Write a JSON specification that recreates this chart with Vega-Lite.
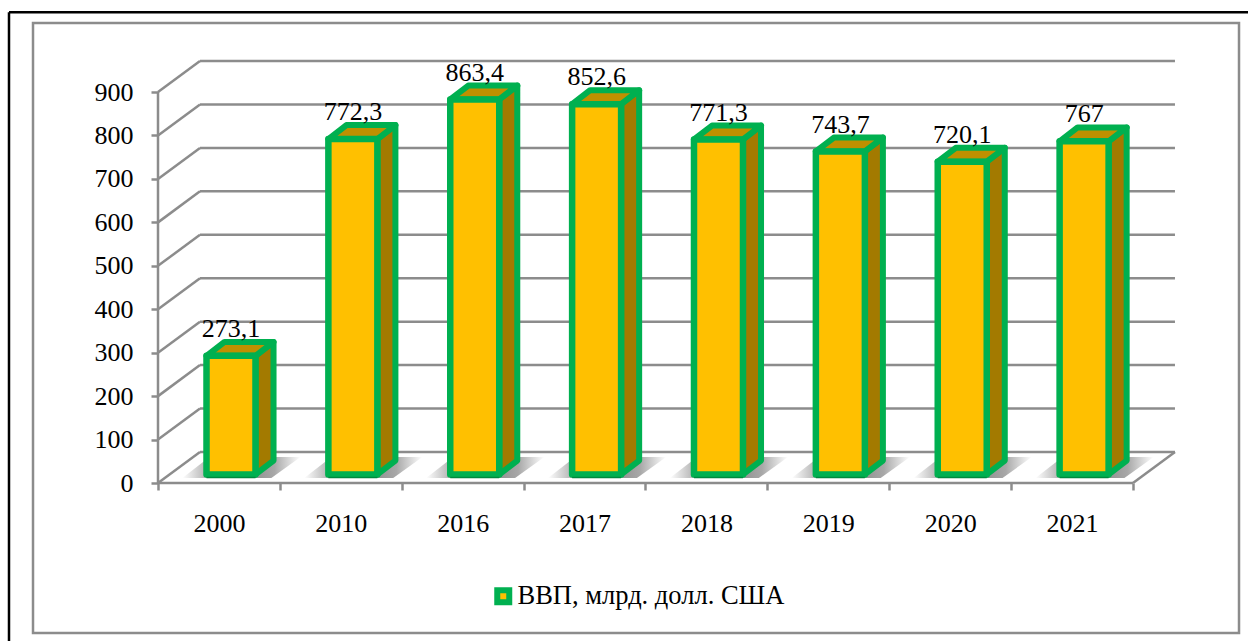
{"$schema":"https://vega.github.io/schema/vega-lite/v6.json","width":1018,"height":422,"autosize":{"type":"none"},"padding":{"left":158,"top":61,"right":72,"bottom":158},"background":"white","config":{"view":{"stroke":null},"font":"Liberation Serif"},"data":{"values":[{"year":"2000","value":273.1,"series":"ВВП, млрд. долл. США"},{"year":"2010","value":772.3,"series":"ВВП, млрд. долл. США"},{"year":"2016","value":863.4,"series":"ВВП, млрд. долл. США"},{"year":"2017","value":852.6,"series":"ВВП, млрд. долл. США"},{"year":"2018","value":771.3,"series":"ВВП, млрд. долл. США"},{"year":"2019","value":743.7,"series":"ВВП, млрд. долл. США"},{"year":"2020","value":720.1,"series":"ВВП, млрд. долл. США"},{"year":"2021","value":767,"series":"ВВП, млрд. долл. США"}]},"transform":[{"window":[{"op":"row_number","as":"n"}]},{"calculate":"datum.n-1","as":"idx"},{"calculate":"datum.idx+0.398","as":"xl"},{"calculate":"datum.idx+0.8","as":"xr"},{"calculate":"19.6","as":"base"},{"calculate":"datum.value+19.6","as":"top"},{"calculate":"replace(toString(datum.value),'.',',')","as":"label"}],"layer":[{"data":{"values":[{"frame":"panel"}]},"mark":{"type":"rect","fill":null,"stroke":"#8c8c8c","strokeWidth":2.5},"encoding":{"x":{"datum":-1.0256,"type":"quantitative","scale":{"domain":[0,8.353],"nice":false,"zero":false},"axis":{"title":null,"values":[0,1,2,3,4,5,6,7,8],"domain":false,"tickColor":"#8c8c8c","tickWidth":2.5,"tickSize":7,"labelFont":"Liberation Serif","labelFontSize":26,"labelColor":"#000000","labelOffset":61,"labelBound":false,"labelFlush":false,"labelOverlap":false,"labelPadding":20,"grid":false,"labelExpr":"['2000','2010','2016','2017','2018','2019','2020','2021',''][datum.value]"}},"x2":{"datum":8.87},"y":{"datum":-345.3,"type":"quantitative","scale":{"domain":[0,971.5],"nice":false,"zero":false},"axis":{"title":null,"values":[0,100,200,300,400,500,600,700,800,900],"domain":false,"tickColor":"#8c8c8c","tickWidth":2.5,"tickSize":7,"labelFont":"Liberation Serif","labelFontSize":26,"labelColor":"#000000","labelPadding":18,"grid":false,"labelOverlap":false,"labelBound":false}},"y2":{"datum":1059}}},{"data":{"values":[{"frame":"outer"}]},"mark":{"type":"rule","stroke":"#000000","strokeWidth":2.5},"encoding":{"x":{"datum":-1.2226,"type":"quantitative","scale":{"domain":[0,8.353],"nice":false,"zero":false}},"x2":{"datum":9.5},"y":{"datum":1084,"type":"quantitative","scale":{"domain":[0,971.5],"nice":false,"zero":false}}}},{"data":{"values":[{"frame":"outer"}]},"mark":{"type":"rule","stroke":"#000000","strokeWidth":2.5},"encoding":{"x":{"datum":-1.2226,"type":"quantitative","scale":{"domain":[0,8.353],"nice":false,"zero":false}},"y":{"datum":-400,"type":"quantitative","scale":{"domain":[0,971.5],"nice":false,"zero":false}},"y2":{"datum":1084}}},{"data":{"values":[{"axis":"value"}]},"mark":{"type":"rule","stroke":"#8c8c8c","strokeWidth":2.5},"encoding":{"x":{"datum":0,"type":"quantitative","scale":{"domain":[0,8.353],"nice":false,"zero":false}},"y":{"datum":0,"type":"quantitative","scale":{"domain":[0,971.5],"nice":false,"zero":false}},"y2":{"datum":900}}},{"data":{"values":[{"axis":"category"}]},"mark":{"type":"rule","stroke":"#8c8c8c","strokeWidth":2.5},"encoding":{"x":{"datum":0,"type":"quantitative","scale":{"domain":[0,8.353],"nice":false,"zero":false}},"x2":{"datum":8},"y":{"datum":0,"type":"quantitative","scale":{"domain":[0,971.5],"nice":false,"zero":false}}}},{"data":{"values":[{"tick":0},{"tick":100},{"tick":200},{"tick":300},{"tick":400},{"tick":500},{"tick":600},{"tick":700},{"tick":800},{"tick":900}]},"transform":[{"calculate":"0.3446","as":"x0"},{"calculate":"8.3446","as":"x1"},{"calculate":"datum.tick+71.4","as":"yb"}],"mark":{"type":"rule","stroke":"#8c8c8c","strokeWidth":2.5},"encoding":{"x":{"field":"x0","type":"quantitative","scale":{"domain":[0,8.353],"nice":false,"zero":false}},"x2":{"field":"x1"},"y":{"field":"yb","type":"quantitative","scale":{"domain":[0,971.5],"nice":false,"zero":false}}}},{"data":{"values":[{"tick":0},{"tick":100},{"tick":200},{"tick":300},{"tick":400},{"tick":500},{"tick":600},{"tick":700},{"tick":800},{"tick":900}]},"transform":[{"calculate":"0.3446","as":"x0"},{"calculate":"0","as":"xa"},{"calculate":"datum.tick+71.4","as":"yb"}],"mark":{"type":"rule","stroke":"#8c8c8c","strokeWidth":2.5},"encoding":{"x":{"field":"xa","type":"quantitative","scale":{"domain":[0,8.353],"nice":false,"zero":false}},"x2":{"field":"x0"},"y":{"field":"tick","type":"quantitative","scale":{"domain":[0,971.5],"nice":false,"zero":false}},"y2":{"field":"yb"}}},{"data":{"values":[{"tick":0}]},"transform":[{"calculate":"8","as":"xa"},{"calculate":"8.3446","as":"xb"},{"calculate":"71.4","as":"yb"}],"mark":{"type":"rule","stroke":"#8c8c8c","strokeWidth":2.5},"encoding":{"x":{"field":"xa","type":"quantitative","scale":{"domain":[0,8.353],"nice":false,"zero":false}},"x2":{"field":"xb"},"y":{"field":"tick","type":"quantitative","scale":{"domain":[0,971.5],"nice":false,"zero":false}},"y2":{"field":"yb"}}},{"transform":[{"calculate":"[0,1]","as":"k"},{"flatten":["k"]},{"calculate":"datum.idx+0.2+datum.k*0.223","as":"sl"},{"calculate":"datum.idx+0.93+datum.k*0.24","as":"sr"},{"calculate":"11.5+datum.k*48.4","as":"sy"}],"mark":{"type":"area","orient":"horizontal","fill":{"gradient":"linear","x1":0,"y1":0,"x2":1,"y2":0,"stops":[{"offset":0,"color":"#ffffff"},{"offset":0.2,"color":"#b4b4b4"},{"offset":0.6,"color":"#909090"},{"offset":0.78,"color":"#a8a8a8"},{"offset":1,"color":"#ffffff"}]}},"encoding":{"detail":{"field":"year"},"y":{"field":"sy","type":"quantitative","scale":{"domain":[0,971.5],"nice":false,"zero":false}},"x":{"field":"sl","type":"quantitative","scale":{"domain":[0,8.353],"nice":false,"zero":false},"stack":null},"x2":{"field":"sr"}}},{"transform":[{"calculate":"[0,1]","as":"k"},{"flatten":["k"]},{"calculate":"datum.xr+datum.k*0.148","as":"sx"},{"calculate":"datum.base+datum.k*32","as":"sb"},{"calculate":"datum.top+datum.k*32","as":"st"}],"mark":{"type":"area","orient":"vertical","fill":"#A37A00","stroke":"#00B050","strokeWidth":6,"strokeJoin":"round"},"encoding":{"detail":{"field":"year"},"x":{"field":"sx","type":"quantitative","scale":{"domain":[0,8.353],"nice":false,"zero":false}},"y":{"field":"sb","type":"quantitative","scale":{"domain":[0,971.5],"nice":false,"zero":false},"stack":null},"y2":{"field":"st"}}},{"transform":[{"calculate":"[0,1]","as":"k"},{"flatten":["k"]},{"calculate":"datum.top+datum.k*32","as":"ty"},{"calculate":"datum.xl+datum.k*0.148","as":"tl"},{"calculate":"datum.xr+datum.k*0.148","as":"tr"}],"mark":{"type":"area","orient":"horizontal","fill":"#BF9000","stroke":"#00B050","strokeWidth":6,"strokeJoin":"round"},"encoding":{"detail":{"field":"year"},"y":{"field":"ty","type":"quantitative","scale":{"domain":[0,971.5],"nice":false,"zero":false}},"x":{"field":"tl","type":"quantitative","scale":{"domain":[0,8.353],"nice":false,"zero":false},"stack":null},"x2":{"field":"tr"}}},{"mark":{"type":"rect","stroke":"#00B050","strokeWidth":6.5,"strokeJoin":"round"},"encoding":{"x":{"field":"xl","type":"quantitative","scale":{"domain":[0,8.353],"nice":false,"zero":false}},"x2":{"field":"xr"},"y":{"field":"base","type":"quantitative","scale":{"domain":[0,971.5],"nice":false,"zero":false}},"y2":{"field":"top"},"fill":{"field":"series","type":"nominal","scale":{"domain":["ВВП, млрд. долл. США"],"range":["#FFC000"]},"legend":{"title":null,"orient":"none","legendX":332,"legendY":522,"symbolType":"square","symbolSize":144,"symbolStrokeColor":"#00B050","symbolStrokeWidth":6,"symbolFillColor":"#FFC000","labelFont":"Liberation Serif","labelFontSize":26.5,"labelColor":"#000000","labelOffset":1,"labelLimit":500}}}},{"transform":[{"calculate":"datum.base-7","as":"edge"}],"mark":{"type":"rule","stroke":"#008A3E","strokeWidth":1.5},"encoding":{"x":{"field":"xl","type":"quantitative","scale":{"domain":[0,8.353],"nice":false,"zero":false}},"x2":{"field":"xr"},"y":{"field":"edge","type":"quantitative","scale":{"domain":[0,971.5],"nice":false,"zero":false}}}},{"transform":[{"calculate":"datum.idx+0.6","as":"lx"},{"calculate":"datum.top+32","as":"ly"}],"mark":{"type":"text","font":"Liberation Serif","fontSize":26,"color":"#000000","baseline":"alphabetic","align":"center","dy":-5,"dx":0},"encoding":{"x":{"field":"lx","type":"quantitative","scale":{"domain":[0,8.353],"nice":false,"zero":false}},"y":{"field":"ly","type":"quantitative","scale":{"domain":[0,971.5],"nice":false,"zero":false}},"text":{"field":"label"}}}]}
